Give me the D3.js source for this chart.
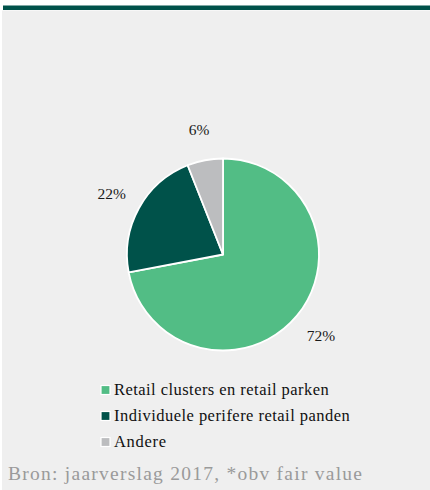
<!DOCTYPE html>
<html>
<head>
<meta charset="utf-8">
<script src="https://cdn.jsdelivr.net/npm/d3@7"></script>
<style>
  html, body { margin: 0; padding: 0; background: #ffffff; }
  svg { display: block; }
</style>
</head>
<body>
<svg id="chart" width="430" height="490"></svg>
<script>
// Portfolio split by segment (share of fair value, %)
const categories = [
  "Retail clusters en retail parken",
  "Individuele perifere retail panden",
  "Andere"
];
const shares = [72, 22, 6];
const colors = ["#52bd85", "#00524a", "#bcbdbf"];
const sourceNote = "Bron: jaarverslag 2017, *obv fair value";

const W = 430, H = 490;
const svg = d3.select("#chart");
const serif = "'Palatino Linotype', 'Book Antiqua', Palatino, 'Liberation Serif', serif";

// widen the Times-metric fallback towards a Palatino-like set width
function widen(sel, factor) {
  sel.each(function () {
    const len = this.getComputedTextLength();
    d3.select(this).attr("textLength", len * factor).attr("lengthAdjust", "spacing");
  });
}

// panel background and top rule
svg.append("rect").attr("x", 2).attr("y", 10.5).attr("width", W - 2).attr("height", H - 10.5)
  .attr("fill", "#efefef");
svg.append("rect").attr("x", 3).attr("y", 5.5).attr("width", W - 3).attr("height", 4.5)
  .attr("fill", "#00524a");

const cx = 223, cy = 254.5, r = 96;
const data = categories.map((c, i) => ({ name: c, value: shares[i], color: colors[i] }));

const pie = d3.pie().value(d => d.value).sort(null);
const arc = d3.arc().innerRadius(0).outerRadius(r);
const labelArc = d3.arc().innerRadius(127).outerRadius(127);

const g = svg.append("g").attr("transform", `translate(${cx},${cy})`);
const arcs = pie(data);

g.selectAll("path.slice").data(arcs).join("path")
  .attr("class", "slice")
  .attr("d", arc)
  .attr("fill", d => d.data.color)
  .attr("stroke", "#ffffff")
  .attr("stroke-width", 1.8)
  .attr("stroke-linejoin", "round");

g.selectAll("text.pct").data(arcs).join("text")
  .attr("class", "pct")
  .attr("transform", d => `translate(${labelArc.centroid(d)})`)
  .attr("text-anchor", "middle")
  .attr("dy", "0.36em")
  .attr("font-family", serif)
  .attr("font-size", 15.5)
  .attr("fill", "#1a1a1a")
  .text(d => d.data.value + "%");

// legend
const legend = svg.append("g").attr("transform", "translate(101,0)");
const rowY = d3.scalePoint().domain(categories).range([390, 442]);
const items = legend.selectAll("g.item").data(data).join("g")
  .attr("class", "item")
  .attr("transform", d => `translate(0,${rowY(d.name)})`);
items.append("rect")
  .attr("x", 0).attr("y", -4.5).attr("width", 9).attr("height", 9)
  .attr("fill", d => d.color)
  .attr("stroke", "#ffffff").attr("stroke-width", 1.2);
const legendText = items.append("text")
  .attr("x", 13).attr("y", 5)
  .attr("font-family", serif)
  .attr("font-size", 16.5)
  .attr("fill", "#111111")
  .text(d => d.name);
widen(legendText, 1.07);

// source line
const src = svg.append("text")
  .attr("x", 8).attr("y", 480)
  .attr("font-family", serif)
  .attr("font-size", 19.5)
  .attr("fill", "#9a9a9a")
  .text(sourceNote);
widen(src, 1.155);
</script>
</body>
</html>
